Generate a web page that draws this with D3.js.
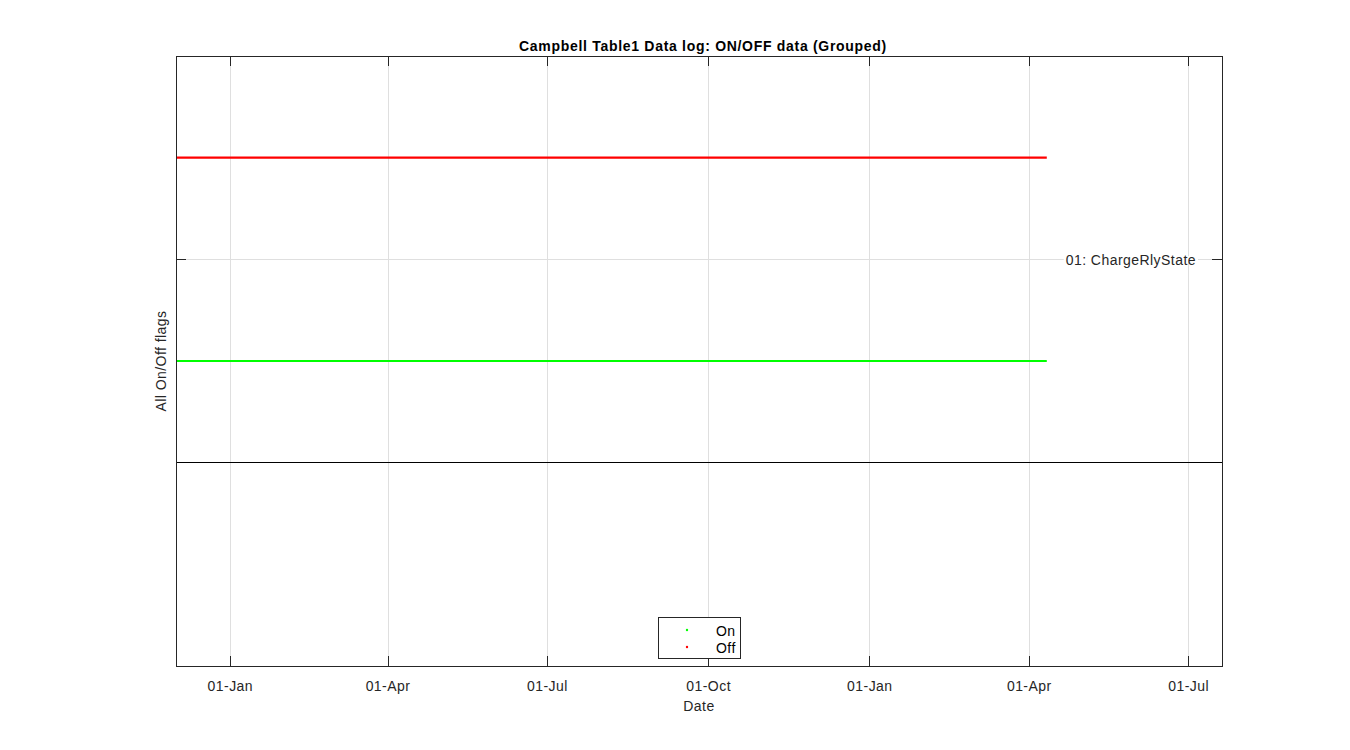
<!DOCTYPE html>
<html>
<head>
<meta charset="utf-8">
<script src="https://cdn.jsdelivr.net/npm/d3@7"></script>
<style>
  html, body { margin: 0; padding: 0; background: #fff; }
  svg { display: block; font-family: "Liberation Sans", Arial, Helvetica, sans-serif; }
</style>
</head>
<body>
<svg id="chart" width="1350" height="750"></svg>
<script>
// ---- data ----
const titleText = "Campbell Table1 Data log: ON/OFF data (Grouped)";
const xLabel = "Date";
const yLabel = "All On/Off flags";
const xDomain = ["2018-12-01", "2020-07-20"];
const yDomain = [-1, 2];
const xTickDates = ["2019-01-01", "2019-04-01", "2019-07-01", "2019-10-01", "2020-01-01", "2020-04-01", "2020-07-01"];
const xTickLabels = ["01-Jan", "01-Apr", "01-Jul", "01-Oct", "01-Jan", "01-Apr", "01-Jul"];
const yTicks = [1];
const flagNames = ["01: ChargeRlyState"];
const separators = [0];
const seriesNames = ["On", "Off"];
const seriesColors = ["#00ff00", "#ff0000"];
const onLevel = [0.5];
const offLevel = [1.5];
const dataStart = ["2018-12-01"];
const dataEnd = ["2020-04-11"];

// ---- layout ----
const svg = d3.select("#chart");
const L = 176, R = 1222, T = 56, B = 666;
const parse = d3.utcParse("%Y-%m-%d");
const x = d3.scaleUtc().domain(xDomain.map(parse)).range([L, R]);
const y = d3.scaleLinear().domain(yDomain).range([B, T]);
const LS = "0.45px";

const gridColor = "#dfdfdf";
// vertical grid
svg.append("g").selectAll("line").data(xTickDates).join("line")
  .attr("x1", d => x(parse(d))).attr("x2", d => x(parse(d)))
  .attr("y1", T).attr("y2", B)
  .attr("stroke", gridColor).attr("stroke-width", 1).attr("shape-rendering", "crispEdges");
// horizontal grid
svg.append("g").selectAll("line").data(yTicks).join("line")
  .attr("x1", L).attr("x2", R)
  .attr("y1", d => y(d)).attr("y2", d => y(d))
  .attr("stroke", gridColor).attr("stroke-width", 1).attr("shape-rendering", "crispEdges");

// series
const levels = [onLevel, offLevel];
seriesNames.forEach((name, i) => {
  levels[i].forEach((lv, k) => {
    svg.append("line")
      .attr("x1", x(parse(dataStart[k]))).attr("x2", x(parse(dataEnd[k])))
      .attr("y1", y(lv)).attr("y2", y(lv))
      .attr("stroke", seriesColors[i]).attr("stroke-width", 2.2);
  });
});

// separator line
svg.append("g").selectAll("line").data(separators).join("line")
  .attr("x1", L).attr("x2", R)
  .attr("y1", d => y(d)).attr("y2", d => y(d))
  .attr("stroke", "#000").attr("stroke-width", 1).attr("shape-rendering", "crispEdges");

// flag name labels
const lab = svg.append("g");
flagNames.forEach((n, i) => {
  const yy = y(yTicks[i]);
  const t = lab.append("text").attr("x", R - 26).attr("y", yy + 1).attr("dy", "0.35em")
    .attr("text-anchor", "end").attr("font-size", 14).attr("letter-spacing", LS)
    .attr("fill", "#262626").text(n);
  const bb = t.node().getBBox();
  lab.insert("rect", "text").attr("x", bb.x - 2).attr("y", yy - 3).attr("width", bb.width + 4).attr("height", 6).attr("fill", "#fff");
});

// axes box
svg.append("rect").attr("x", L).attr("y", T).attr("width", R - L).attr("height", B - T)
  .attr("fill", "none").attr("stroke", "#262626").attr("stroke-width", 1).attr("shape-rendering", "crispEdges");

// ticks
const tickLen = 10;
const tg = svg.append("g").attr("stroke", "#262626").attr("shape-rendering", "crispEdges");
xTickDates.forEach(d => {
  const xx = x(parse(d));
  tg.append("line").attr("x1", xx).attr("x2", xx).attr("y1", B).attr("y2", B - tickLen);
  tg.append("line").attr("x1", xx).attr("x2", xx).attr("y1", T).attr("y2", T + tickLen);
});
yTicks.forEach(v => {
  tg.append("line").attr("x1", L).attr("x2", L + tickLen).attr("y1", y(v)).attr("y2", y(v));
  tg.append("line").attr("x1", R).attr("x2", R - tickLen).attr("y1", y(v)).attr("y2", y(v));
});

// x tick labels
svg.append("g").selectAll("text").data(xTickDates).join("text")
  .attr("x", d => x(parse(d))).attr("y", 691)
  .attr("text-anchor", "middle").attr("font-size", 14).attr("letter-spacing", LS).attr("fill", "#262626")
  .text((d, i) => xTickLabels[i]);

// axis labels
svg.append("text").attr("x", (L + R) / 2).attr("y", 711).attr("text-anchor", "middle")
  .attr("font-size", 14).attr("letter-spacing", LS).attr("fill", "#262626").text(xLabel);
svg.append("text").attr("transform", `translate(166,${(T + B) / 2}) rotate(-90)`)
  .attr("text-anchor", "middle").attr("font-size", 14).attr("letter-spacing", LS).attr("fill", "#262626").text(yLabel);

// title
svg.append("text").attr("x", (L + R) / 2 + 4).attr("y", 51).attr("text-anchor", "middle")
  .attr("font-size", 14).attr("font-weight", "bold").attr("letter-spacing", "0.7px").attr("fill", "#000").text(titleText);

// legend
const lg = svg.append("g");
lg.append("rect").attr("x", 658).attr("y", 617).attr("width", 82).attr("height", 41)
  .attr("fill", "#fff").attr("stroke", "#262626").attr("stroke-width", 1).attr("shape-rendering", "crispEdges");
seriesNames.forEach((n, i) => {
  const yy = 630 + i * 17;
  lg.append("circle").attr("cx", 687).attr("cy", yy).attr("r", 1.2).attr("fill", seriesColors[i]);
  lg.append("text").attr("x", 716).attr("y", yy + 1).attr("dy", "0.35em").attr("font-size", 14)
    .attr("letter-spacing", LS).attr("fill", "#000").text(n);
});
</script>
</body>
</html>
